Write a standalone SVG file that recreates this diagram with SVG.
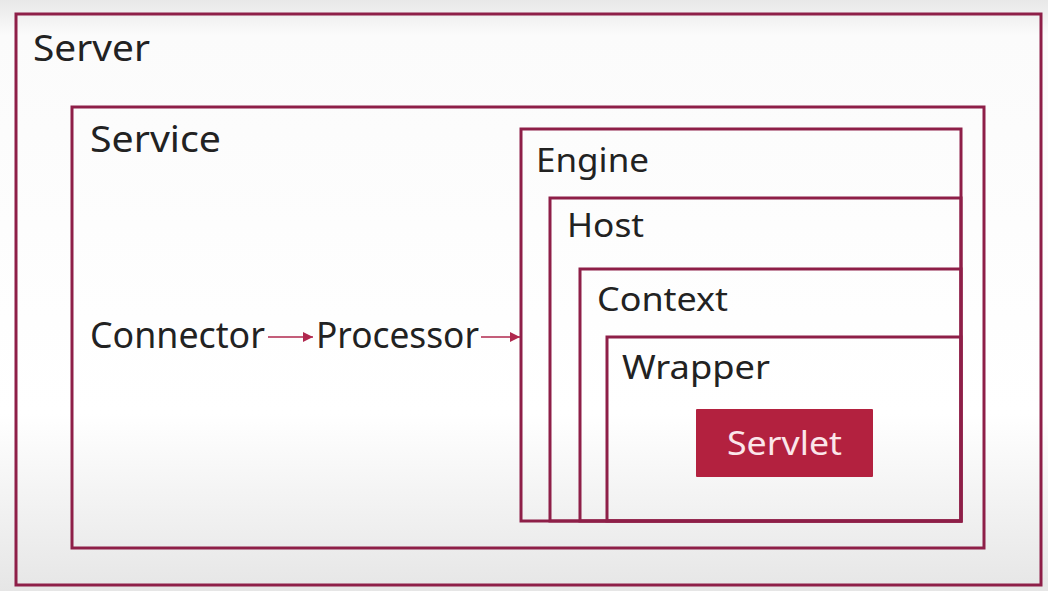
<svg xmlns="http://www.w3.org/2000/svg" width="1048" height="591" viewBox="0 0 1048 591">
<defs>
<linearGradient id="bg" x1="0" y1="0" x2="0" y2="1">
<stop offset="0" stop-color="#e8e8e8"/>
<stop offset="0.06" stop-color="#fbfbfb"/>
<stop offset="0.7" stop-color="#ffffff"/>
<stop offset="1" stop-color="#e6e6e6"/>
</linearGradient>
<marker id="ah" viewBox="0 0 10 10" refX="10" refY="5" markerWidth="10" markerHeight="10" markerUnits="userSpaceOnUse" orient="auto">
<path d="M0,0 L10,5 L0,10 z" fill="#b0284e"/>
</marker>
</defs>
<style>
.box{fill:none;stroke:#8e1f48;stroke-width:3}
.lbl{font-family:"Noto Sans","Open Sans","DejaVu Sans",sans-serif;fill:#222}
.big{font-size:37px}
.mid{font-size:33px}
.conn{stroke:#b0284e;stroke-width:1.6;fill:none}
</style>
<rect x="0" y="0" width="1048" height="591" fill="url(#bg)"/>
<g id="server">
<rect class="box" x="16" y="14" width="1025" height="571"/>
<text class="lbl big" x="33" y="61" textLength="117" lengthAdjust="spacingAndGlyphs">Server</text>
</g>
<g id="service">
<rect class="box" x="72" y="107" width="912" height="441"/>
<text class="lbl big" x="90" y="152" textLength="131" lengthAdjust="spacingAndGlyphs">Service</text>
</g>
<g id="connector">
<text class="lbl big" x="90" y="348" textLength="175" lengthAdjust="spacingAndGlyphs">Connector</text>
</g>
<g id="processor">
<text class="lbl big" x="316" y="348" textLength="163" lengthAdjust="spacingAndGlyphs">Processor</text>
</g>
<g id="engine">
<rect class="box" x="521" y="129" width="440" height="392"/>
<text class="lbl mid" x="536" y="172" textLength="113" lengthAdjust="spacingAndGlyphs">Engine</text>
</g>
<g id="host">
<rect class="box" x="550" y="198" width="411" height="323"/>
<text class="lbl mid" x="567" y="237" textLength="77" lengthAdjust="spacingAndGlyphs">Host</text>
</g>
<g id="context">
<rect class="box" x="580" y="269" width="381" height="252"/>
<text class="lbl mid" x="597" y="311" textLength="131" lengthAdjust="spacingAndGlyphs">Context</text>
</g>
<g id="wrapper">
<rect class="box" x="607" y="337" width="354" height="184"/>
<text class="lbl mid" x="622" y="379" textLength="148" lengthAdjust="spacingAndGlyphs">Wrapper</text>
</g>
<g id="servlet">
<rect x="696" y="409" width="177" height="68" fill="#b3213f" rx="1"/>
<text class="lbl mid" x="784.5" y="455" text-anchor="middle" fill="#fbe6ea" style="fill:#fbe6ea" textLength="115" lengthAdjust="spacingAndGlyphs">Servlet</text>
</g>
<g id="connectors">
<line class="conn" x1="268" y1="337" x2="313" y2="337" marker-end="url(#ah)"/>
<line class="conn" x1="481" y1="337" x2="520" y2="337" marker-end="url(#ah)"/>
</g>
</svg>
